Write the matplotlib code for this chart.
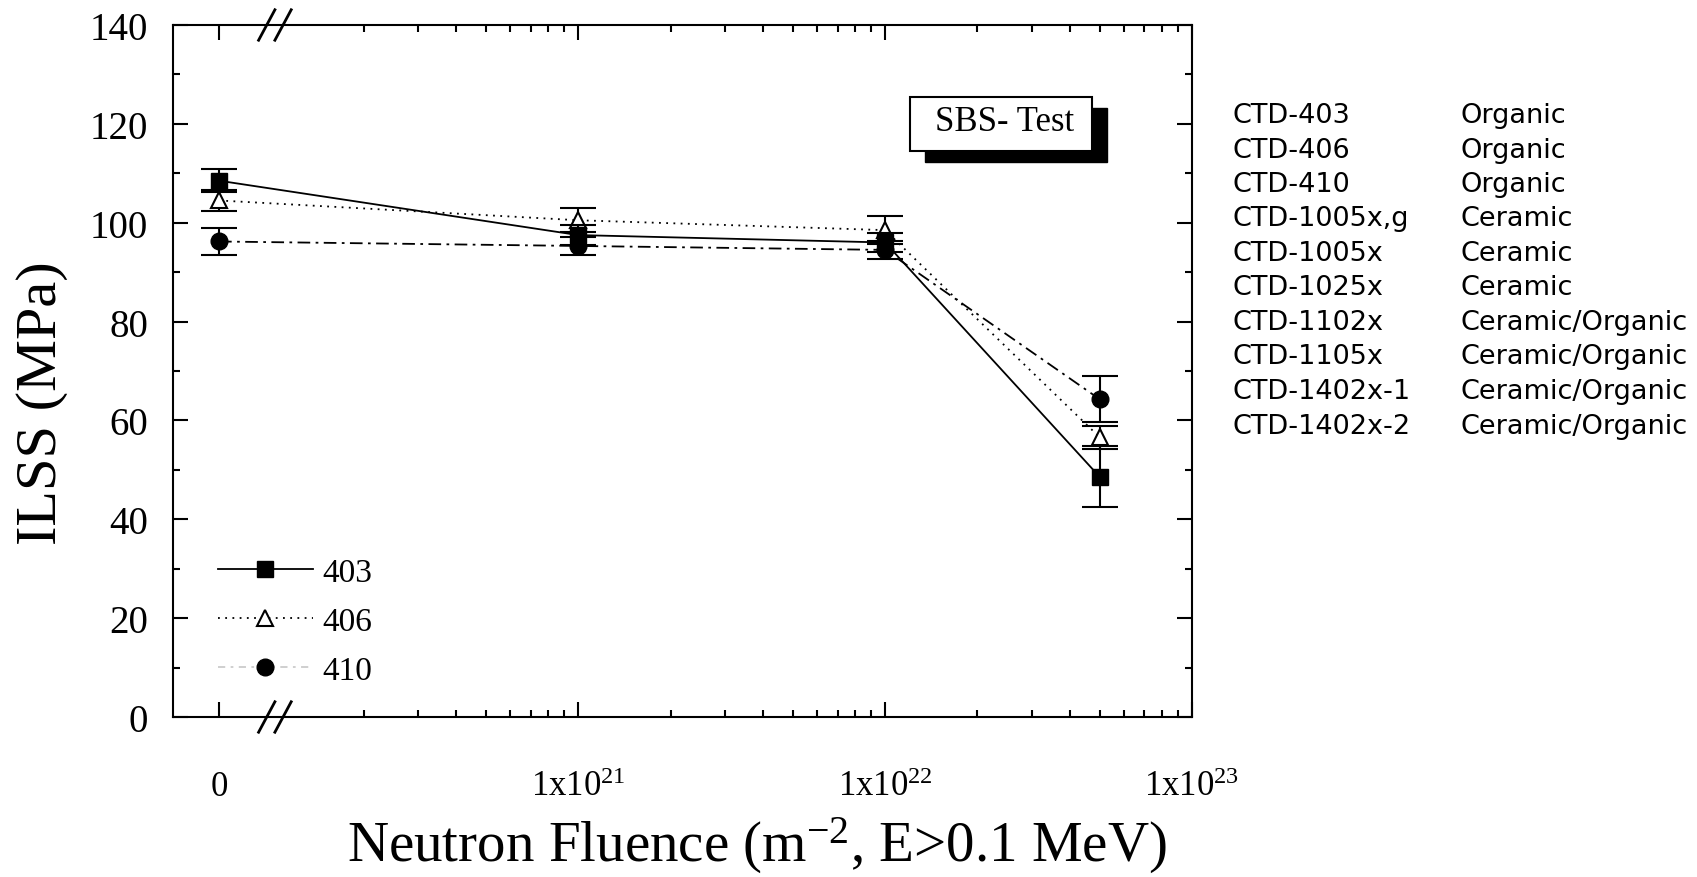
import numpy as np
import matplotlib
matplotlib.use('Agg')
import matplotlib.pyplot as plt
from matplotlib.lines import Line2D
from matplotlib.patches import Rectangle
from matplotlib.ticker import MultipleLocator, FixedLocator

plt.rcParams['font.family'] = ['Liberation Serif', 'DejaVu Serif']
plt.rcParams['mathtext.fontset'] = 'custom'
plt.rcParams['mathtext.rm'] = 'Liberation Serif'

# data
fluence = [0, 1e21, 1e22, 5e22]
ilss_403 = [108.5, 97.5, 96.0, 48.6]
err_403 = [2.3, 2.0, 2.0, 6.2]
ilss_406 = [104.5, 100.5, 98.5, 56.6]
err_406 = [2.1, 2.4, 2.9, 2.3]
ilss_410 = [96.2, 95.3, 94.5, 64.3]
err_410 = [2.7, 1.8, 1.8, 4.6]

x_ticklabels = ['0', r'$\mathregular{1x10^{21}}$', r'$\mathregular{1x10^{22}}$', r'$\mathregular{1x10^{23}}$']

materials = ['CTD-403', 'CTD-406', 'CTD-410', 'CTD-1005x,g', 'CTD-1005x',
             'CTD-1025x', 'CTD-1102x', 'CTD-1105x', 'CTD-1402x-1', 'CTD-1402x-2']
mat_types = ['Organic', 'Organic', 'Organic', 'Ceramic', 'Ceramic', 'Ceramic',
             'Ceramic/Organic', 'Ceramic/Organic', 'Ceramic/Organic', 'Ceramic/Organic']

# x axis is in decades, with the zero point put left of the axis break
zero_pos = 19.83


def to_pos(vals):
    return [np.log10(v) if v > 0 else zero_pos for v in vals]


xpos = to_pos(fluence)

fig = plt.figure(figsize=(16.97, 8.78), dpi=100)
ax = fig.add_axes([173 / 1697, 1 - 718 / 878, 1019 / 1697, 692 / 878])

common = dict(color='k', capsize=13, capthick=1.5, elinewidth=1.5, lw=1.3, ms=12)
ax.errorbar(xpos, ilss_410, yerr=err_410, fmt='o', ls=(0, (7, 3, 1.5, 3)), mfc='k', zorder=3, **common)
ax.errorbar(xpos, ilss_406, yerr=err_406, fmt='^', ls=(0, (1, 3)), mfc='white', mew=1.5, zorder=4, **common)
ax.errorbar(xpos, ilss_403, yerr=err_403, fmt='s', ls='-', mfc='k', zorder=5, **common)

ax.set_xlim(19.68, 23)
ax.set_ylim(0, 140)

ax.xaxis.set_major_locator(FixedLocator([zero_pos, 21, 22, 23]))
ax.set_xticklabels(x_ticklabels)
minors = [np.log10(k * 10.0 ** n) for n in (20, 21, 22) for k in range(2, 10)]
ax.xaxis.set_minor_locator(FixedLocator(minors))
ax.yaxis.set_major_locator(MultipleLocator(20))
ax.yaxis.set_minor_locator(MultipleLocator(10))

ax.tick_params(which='both', direction='in', top=True, right=True, width=1.5)
ax.tick_params(which='major', length=11)
ax.tick_params(which='minor', length=5)
ax.tick_params(axis='x', which='major', labelsize=25, pad=38)
ax.tick_params(axis='y', which='major', labelsize=28, pad=18)
for s in ax.spines.values():
    s.set_linewidth(1.5)

ax.set_ylabel('ILSS (MPa)', fontsize=42)
ax.yaxis.set_label_coords(-0.129, 0.4545)
ax.yaxis.label.set_va('center')
ax.set_xlabel(r'Neutron Fluence ($\mathregular{m^{-2}}$, E>0.1 MeV)', fontsize=41)
ax.xaxis.set_label_coords(0.573, -0.2283)
ax.xaxis.label.set_va('bottom')

# axis break marks
for yb in (0, 1):
    for xb in (0.092, 0.108):
        ax.plot([xb - 0.008, xb + 0.008], [yb - 0.022, yb + 0.022], color='k', lw=2,
                transform=ax.transAxes, clip_on=False)

# SBS-Test label box with shadow
ax.add_patch(Rectangle((0.738, 0.802), 0.1786, 0.078, transform=ax.transAxes,
                       facecolor='k', edgecolor='k', zorder=6))
ax.add_patch(Rectangle((0.7233, 0.818), 0.1786, 0.078, transform=ax.transAxes,
                       facecolor='white', edgecolor='k', lw=1.5, zorder=7))
ax.text(0.816, 0.861, 'SBS- Test', transform=ax.transAxes, fontsize=25,
        ha='center', va='center', zorder=8)

handles = [
    Line2D([], [], color='k', ls='-', lw=1.3, marker='s', ms=12, mfc='k'),
    Line2D([], [], color='k', ls=(0, (1, 3)), lw=1.3, marker='^', ms=12, mfc='white', mew=1.5),
    Line2D([], [], color='0.8', ls=(0, (4, 3, 1.5, 3)), lw=1.3, marker='o', ms=12, mfc='k', mec='k'),
]
ax.legend(handles, ['403', '406', '410'], loc='lower left', bbox_to_anchor=(0.044, 0.045),
          frameon=False, fontsize=24, handlelength=2.85, handletextpad=0.28,
          labelspacing=0.56, borderpad=0, borderaxespad=0)

# material table on the right
for i, (m, t) in enumerate(zip(materials, mat_types)):
    yy = 1 - (116 + 34.5 * i) / 878
    fig.text(1233 / 1697, yy, m, fontsize=19.5, family='DejaVu Sans', va='center')
    fig.text(1461 / 1697, yy, t, fontsize=19.5, family='DejaVu Sans', va='center')

fig.savefig('out.png', dpi=100)
